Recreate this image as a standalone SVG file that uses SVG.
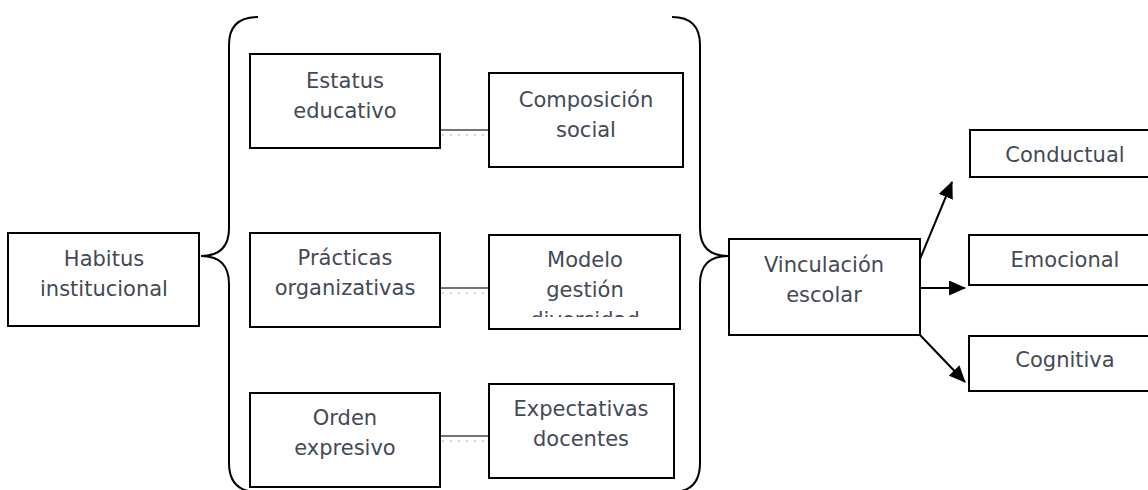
<svg xmlns="http://www.w3.org/2000/svg" width="1148" height="490" viewBox="0 0 1148 490">
<style>
.box{fill:#fff;stroke:#000;stroke-width:2}
.t{font-family:"DejaVu Sans","Verdana",sans-serif;font-size:21px;fill:#434a55;text-anchor:middle}
.brace{fill:none;stroke:#000;stroke-width:2}
.link{stroke:#444;stroke-width:1.3}
.dot{stroke:#aaa;stroke-width:1;stroke-dasharray:2 6}
.arr{stroke:#000;stroke-width:2;fill:none;marker-end:url(#ah)}
</style>
<defs>
<marker id="ah" viewBox="0 0 17 15" refX="16" refY="7.5" markerWidth="17" markerHeight="15" markerUnits="userSpaceOnUse" orient="auto">
<path d="M0,0 L17,7.5 L0,15 Z" fill="#000"/>
</marker>
<clipPath id="clipModelo"><rect x="489" y="235" width="191" height="82"/></clipPath>
</defs>
<rect width="1148" height="490" fill="#fff"/>
<g id="braces">
<path class="brace" d="M258,17 Q229,17 229,45 L229,228 Q229,256 201,256 Q229,256 229,284 L229,463 Q229,492 258,492"/>
<path class="brace" d="M672,17 Q700,17 700,45 L700,228 Q700,256 728,256 Q700,256 700,284 L700,463 Q700,492 672,492"/>
</g>
<g id="connectors">
<line class="link" x1="440" y1="130" x2="489" y2="130"/>
<line class="dot" x1="442" y1="135" x2="489" y2="135"/>
<line class="link" x1="440" y1="288" x2="489" y2="288"/>
<line class="dot" x1="442" y1="293" x2="489" y2="293"/>
<line class="link" x1="440" y1="436" x2="489" y2="436"/>
<line class="dot" x1="442" y1="441" x2="489" y2="441"/>
<line class="arr" x1="920" y1="259" x2="952" y2="182"/>
<line class="arr" x1="920" y1="288" x2="965" y2="288"/>
<line class="arr" x1="920" y1="335" x2="965" y2="382"/>
</g>
<g id="habitus">
<rect class="box" x="8" y="233" width="191" height="93"/>
<text class="t" x="104" y="266">Habitus</text>
<text class="t" x="104" y="296">institucional</text>
</g>
<g id="estatus">
<rect class="box" x="250" y="54" width="190" height="94"/>
<text class="t" x="345" y="88">Estatus</text>
<text class="t" x="345" y="118">educativo</text>
</g>
<g id="composicion">
<rect class="box" x="489" y="73" width="194" height="94"/>
<text class="t" x="586" y="107">Composición</text>
<text class="t" x="586" y="137">social</text>
</g>
<g id="practicas">
<rect class="box" x="250" y="233" width="190" height="94"/>
<text class="t" x="345" y="265">Prácticas</text>
<text class="t" x="345" y="295">organizativas</text>
</g>
<g id="modelo">
<rect class="box" x="489" y="235" width="191" height="94"/>
<g clip-path="url(#clipModelo)">
<text class="t" x="585" y="267">Modelo</text>
<text class="t" x="585" y="297">gestión</text>
<text class="t" x="585" y="327">diversidad</text>
</g>
</g>
<g id="orden">
<rect class="box" x="250" y="393" width="190" height="94"/>
<text class="t" x="345" y="425">Orden</text>
<text class="t" x="345" y="455">expresivo</text>
</g>
<g id="expectativas">
<rect class="box" x="489" y="384" width="185" height="94"/>
<text class="t" x="581" y="416">Expectativas</text>
<text class="t" x="581" y="446">docentes</text>
</g>
<g id="vinculacion">
<rect class="box" x="729" y="239" width="191" height="96"/>
<text class="t" x="824" y="272">Vinculación</text>
<text class="t" x="824" y="302">escolar</text>
</g>
<g id="conductual">
<rect class="box" x="970" y="130" width="190" height="47"/>
<text class="t" x="1065" y="162">Conductual</text>
</g>
<g id="emocional">
<rect class="box" x="969" y="235" width="191" height="50"/>
<text class="t" x="1065" y="267">Emocional</text>
</g>
<g id="cognitiva">
<rect class="box" x="969" y="336" width="191" height="55"/>
<text class="t" x="1065" y="367">Cognitiva</text>
</g>
</svg>
